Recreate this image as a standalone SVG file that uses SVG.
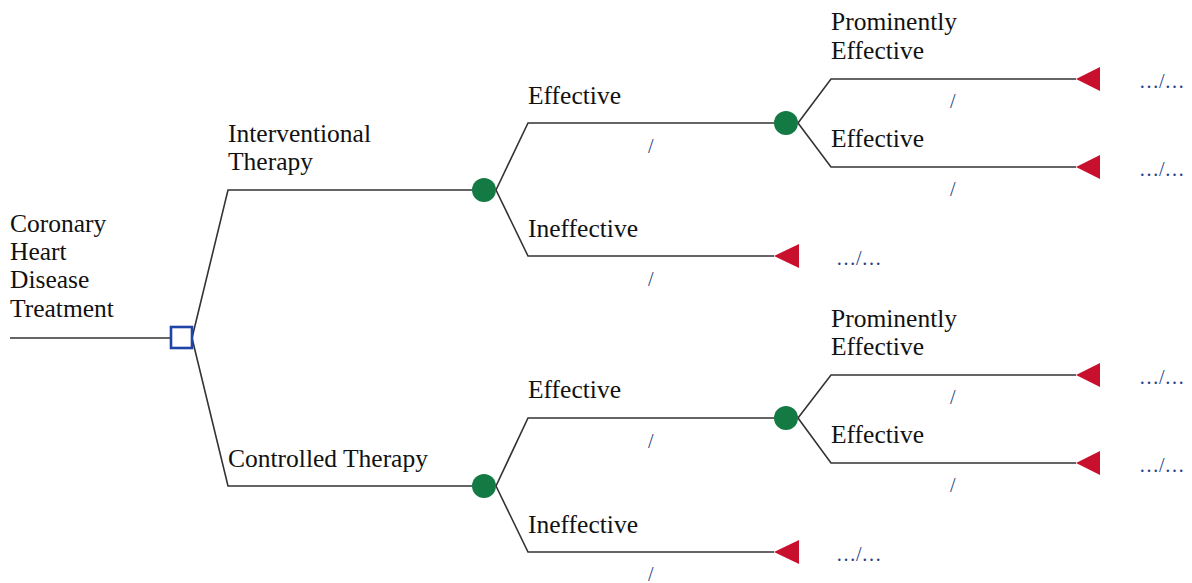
<svg xmlns="http://www.w3.org/2000/svg" width="1192" height="583" viewBox="0 0 1192 583">
<style>
.ln{fill:none;stroke:#333;stroke-width:1.6}
.lbl{font-family:"Liberation Serif","Times New Roman",serif;font-size:25.5px;fill:#111}
.pr{font-family:"Liberation Serif","Times New Roman",serif;font-size:20px;fill:#2a3f85}
.ch{fill:#137a43}
.tm{fill:#c8102e}
.dc{fill:#fff;stroke:#1f44a8;stroke-width:2.6}
</style>
<rect width="1192" height="583" fill="#fff"/>
<g id="connectors">
<path class="ln" d="M10,338H171"/>
<path class="ln" d="M192,338L228,190H472"/>
<path class="ln" d="M192,338L228,486H472"/>
<path class="ln" d="M496,190L528,123H774"/>
<path class="ln" d="M496,190L528,256H774"/>
<path class="ln" d="M798,123L831,79H1076"/>
<path class="ln" d="M798,123L831,167H1076"/>
<path class="ln" d="M496,486L528,418H774"/>
<path class="ln" d="M496,486L528,552H774"/>
<path class="ln" d="M798,418L831,375H1076"/>
<path class="ln" d="M798,418L831,463H1076"/>
</g>
<g id="root">
<rect class="dc" x="171" y="327" width="21" height="21"/>
<text class="lbl" x="10" y="232">Coronary</text>
<text class="lbl" x="10" y="260">Heart</text>
<text class="lbl" x="10" y="288">Disease</text>
<text class="lbl" x="10" y="317">Treatment</text>
</g>
<g id="interventional">
<circle class="ch" cx="484" cy="190" r="12"/>
<text class="lbl" x="228" y="142">Interventional</text>
<text class="lbl" x="228" y="170">Therapy</text>
</g>
<g id="int-effective">
<circle class="ch" cx="786" cy="123" r="12"/>
<text class="lbl" x="528" y="104">Effective</text>
<text class="pr" x="648" y="153">/</text>
</g>
<g id="int-ineffective">
<polygon class="tm" points="774,256 799,244 799,268"/>
<text class="lbl" x="528" y="237">Ineffective</text>
<text class="pr" x="648" y="286">/</text>
<text class="pr" x="836" y="265">…/…</text>
</g>
<g id="int-eff-prominent">
<polygon class="tm" points="1076,79 1100,67 1100,91"/>
<text class="lbl" x="831" y="30">Prominently</text>
<text class="lbl" x="831" y="59">Effective</text>
<text class="pr" x="950" y="108">/</text>
<text class="pr" x="1139" y="88">…/…</text>
</g>
<g id="int-eff-effective">
<polygon class="tm" points="1076,167 1100,155 1100,179"/>
<text class="lbl" x="831" y="147">Effective</text>
<text class="pr" x="950" y="196">/</text>
<text class="pr" x="1139" y="176">…/…</text>
</g>
<g id="controlled">
<circle class="ch" cx="484" cy="486" r="12"/>
<text class="lbl" x="228" y="467">Controlled Therapy</text>
</g>
<g id="con-effective">
<circle class="ch" cx="786" cy="418" r="12"/>
<text class="lbl" x="528" y="398">Effective</text>
<text class="pr" x="648" y="448">/</text>
</g>
<g id="con-ineffective">
<polygon class="tm" points="774,552 799,540 799,564"/>
<text class="lbl" x="528" y="533">Ineffective</text>
<text class="pr" x="648" y="581">/</text>
<text class="pr" x="836" y="561">…/…</text>
</g>
<g id="con-eff-prominent">
<polygon class="tm" points="1076,375 1100,363 1100,387"/>
<text class="lbl" x="831" y="327">Prominently</text>
<text class="lbl" x="831" y="355">Effective</text>
<text class="pr" x="950" y="404">/</text>
<text class="pr" x="1139" y="384">…/…</text>
</g>
<g id="con-eff-effective">
<polygon class="tm" points="1076,463 1100,451 1100,475"/>
<text class="lbl" x="831" y="443">Effective</text>
<text class="pr" x="950" y="492">/</text>
<text class="pr" x="1139" y="472">…/…</text>
</g>
</svg>
